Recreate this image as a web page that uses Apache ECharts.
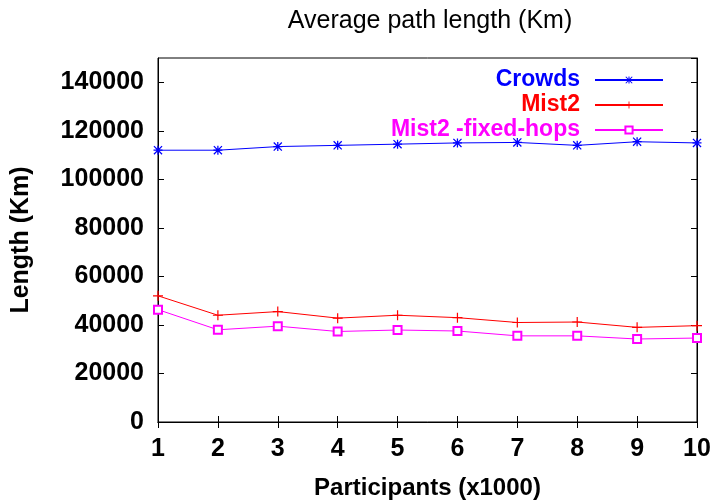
<!DOCTYPE html>
<html>
<head>
<meta charset="utf-8">
<script src="https://cdn.jsdelivr.net/npm/echarts@6/dist/echarts.min.js"></script>
<style>html,body{margin:0;padding:0;background:#fff}#c{width:710px;height:500px}</style>
</head>
<body>
<div id="c"></div>
<script>
const participants = [1, 2, 3, 4, 5, 6, 7, 8, 9, 10];
const crowds = [112000, 112000, 113500, 114000, 114500, 115000, 115200, 114000, 115500, 115000];
const mist2 = [52000, 44000, 45500, 42800, 44000, 43000, 41000, 41200, 39000, 39700];
const mist2Fixed = [46300, 38000, 39500, 37300, 37900, 37500, 35500, 35500, 34200, 34600];
const seriesNames = ['Crowds', 'Mist2', 'Mist2 -fixed-hops'];
const colors = ['#0000ff', '#ff0000', '#ff00ff'];

const starPath = 'path://M4.3,0H5.7V10H4.3Z M0,4.3H10V5.7H0Z M0,1L1,0L10,9L9,10Z M9,0L10,1L1,10L0,9Z';
const plusPath = 'path://M4.4,0H5.6V10H4.4Z M0,4.4H10V5.6H0Z';
const symbols = [starPath, plusPath, 'emptyRect'];
const sizes = [9, 10, 8];
const borders = [0, 0, 1];
const allData = [crowds, mist2, mist2Fixed];

const font = '"Liberation Sans", Arial, sans-serif';
const chart = echarts.init(document.getElementById('c'), null, {renderer: 'canvas'});

const series = seriesNames.map((name, i) => ({
  name: name,
  type: 'line',
  xAxisIndex: 0, yAxisIndex: 0,
  data: participants.map((x, j) => [x, allData[i][j]]),
  symbol: symbols[i],
  symbolSize: sizes[i],
  showAllSymbol: true,
  color: colors[i],
  lineStyle: {width: 1, color: colors[i]},
  itemStyle: {color: colors[i], borderColor: colors[i], borderWidth: borders[i]},
  emphasis: {disabled: true},
  animation: false
}));

chart.setOption({
  animation: false,
  backgroundColor: '#fff',
  title: {
    text: 'Average path length (Km)',
    left: 425, top: 4, textAlign: 'center',
    textStyle: {fontFamily: font, fontSize: 25, fontWeight: 'normal', color: '#000'}
  },
  legend: {
    orient: 'vertical',
    right: 41, top: 63,
    align: 'right',
    itemWidth: 68, itemHeight: 9,
    itemGap: 1,
    data: seriesNames.map((n, i) => ({name: n, textStyle: {color: colors[i]}})),
    textStyle: {fontFamily: font, fontSize: 23, fontWeight: 'bold', lineHeight: 24, padding: [0, 10, 0, 0]},
    selectedMode: false
  },
  grid: {left: 158, right: 13, top: 58, bottom: 78, outerBoundsMode: 'none', containLabel: false, show: true, borderColor: '#000', borderWidth: 1, backgroundColor: 'transparent'},
  xAxis: [{
    type: 'value', min: 1, max: 10, interval: 1,
    name: 'Participants (x1000)', nameLocation: 'middle', nameGap: 54,
    nameTextStyle: {fontFamily: font, fontSize: 24, fontWeight: 'bold', color: '#000'},
    axisLine: {show: true, lineStyle: {color: '#000', width: 1}},
    axisTick: {show: true, inside: true, length: 6, lineStyle: {color: '#000'}},
    axisLabel: {fontFamily: font, fontSize: 25, fontWeight: 'bold', color: '#000', margin: 15, formatter: v => String(v)},
    splitLine: {show: false}
  }, {
    type: 'value', min: 1, max: 10, interval: 1, position: 'top',
    axisLine: {show: true, lineStyle: {color: '#000', width: 1}},
    axisTick: {show: true, inside: true, length: 6, lineStyle: {color: '#000'}},
    axisLabel: {show: false}, splitLine: {show: false}
  }],
  yAxis: [{
    type: 'value', min: 0, max: 150000, interval: 20000,
    name: 'Length (Km)', nameLocation: 'middle', nameGap: 124, nameRotate: 90,
    nameTextStyle: {fontFamily: font, fontSize: 25, fontWeight: 'bold', color: '#000'},
    axisLine: {show: true, lineStyle: {color: '#000', width: 1}},
    axisTick: {show: true, inside: true, length: 6, lineStyle: {color: '#000'}},
    axisLabel: {fontFamily: font, fontSize: 25, fontWeight: 'bold', color: '#000', margin: 14, showMaxLabel: false, formatter: v => String(v)},
    splitLine: {show: false}
  }, {
    type: 'value', min: 0, max: 150000, interval: 20000, position: 'right',
    axisLine: {show: true, lineStyle: {color: '#000', width: 1}},
    axisTick: {show: true, inside: true, length: 6, lineStyle: {color: '#000'}},
    axisLabel: {show: false}, splitLine: {show: false}
  }],
  series: series
});
</script>
</body>
</html>
